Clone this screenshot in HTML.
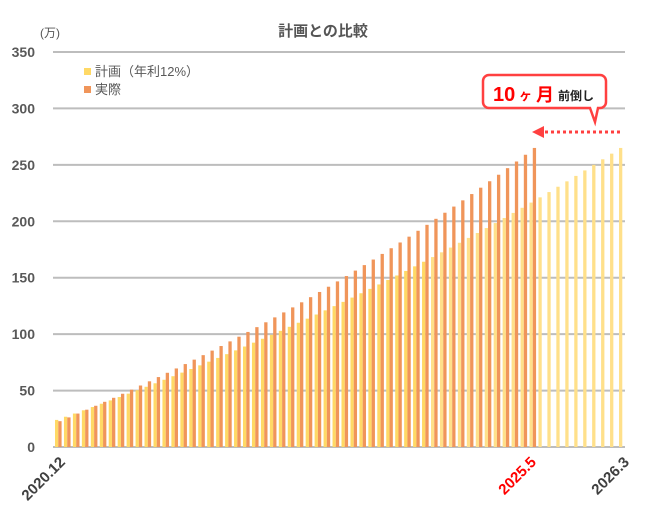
<!DOCTYPE html>
<html><head><meta charset="utf-8"><style>
html,body{margin:0;padding:0;background:#fff;}
svg{display:block;font-family:"Liberation Sans","Noto Sans CJK JP",sans-serif;}
</style></head><body>
<svg id="s" width="646" height="522" viewBox="0 0 646 522" xmlns="http://www.w3.org/2000/svg">
<rect width="646" height="522" fill="#fff"/>
<text x="323" y="36" text-anchor="middle" font-size="15" fill="#555" font-weight="bold">計画との比較</text>
<text x="40" y="37" font-size="12" fill="#555">(万)</text>
<g id="grid" stroke="#bdbdbd" stroke-width="2"></g>
<g id="ylab" font-size="14" fill="#595959" text-anchor="end" font-weight="bold"></g>
<g id="bars"></g>
<rect x="84" y="68" width="7" height="7" fill="#FFD966"/>
<text x="95" y="76" font-size="13" fill="#595959">計画（年利12%）</text>
<rect x="84" y="86" width="7" height="7" fill="#F0955A"/>
<text x="95" y="94" font-size="13" fill="#595959">実際</text>
<path d="M489,75 H600 a6,6 0 0 1 6,6 V102 a6,6 0 0 1 -6,6 H598 L595,122 L590,108 H489 a6,6 0 0 1 -6,-6 V81 a6,6 0 0 1 6,-6 Z" fill="#fff" stroke="#FF4040" stroke-width="2.5"/>
<text x="493" y="101" font-size="20" fill="#FF0000" font-weight="bold">10</text>
<text x="519" y="100" font-size="13" fill="#FF0000" font-weight="bold">ヶ</text>
<text x="536" y="101" font-size="18" fill="#FF0000" font-weight="bold">月</text>
<text x="558" y="100" font-size="12" fill="#222" font-weight="bold">前倒し</text>
<line x1="620" y1="132" x2="544" y2="132" stroke="#FF4040" stroke-width="3" stroke-dasharray="3,3"/>
<polygon points="532,132 544,126 544,138" fill="#FF4040"/>
<g font-size="15" font-weight="bold" text-anchor="end">
<text transform="translate(66,463) rotate(-45)" fill="#404040">2020.12</text>
<text transform="translate(537,463) rotate(-45)" fill="#FF0000">2025.5</text>
<text transform="translate(630,463) rotate(-45)" fill="#404040">2026.3</text>
</g>
</svg>
<script>
var ns="http://www.w3.org/2000/svg";
function el(t,a,p){var e=document.createElementNS(ns,t);for(var k in a)e.setAttribute(k,a[k]);document.getElementById(p).appendChild(e);return e;}
function Y(v){return 447-v*395/350;}
for(var v=0;v<=350;v+=50){el("line",{x1:53,x2:625,y1:Y(v),y2:Y(v)},"grid");var t=el("text",{x:35,y:Y(v)+5},"ylab");t.textContent=v;}
var r=Math.pow(1.12,1/12);
function P(i){var ri=Math.pow(r,i);return 24*ri+2.585*(ri-1)/(r-1);}
var pitch=(619-55)/63;
for(var i=0;i<64;i++){
 var x=55+i*pitch,v=P(i);
 el("rect",{x:x,y:Y(v),width:3.3,height:447-Y(v),fill:i>=42?"#FFE08A":"#FFD966"},"bars");
 if(i<54){var a=P(i-0.4+10.4*i/53);el("rect",{x:x+3.3,y:Y(a),width:3.3,height:447-Y(a),fill:"#F0955A"},"bars");}
}
</script>
</body></html>
